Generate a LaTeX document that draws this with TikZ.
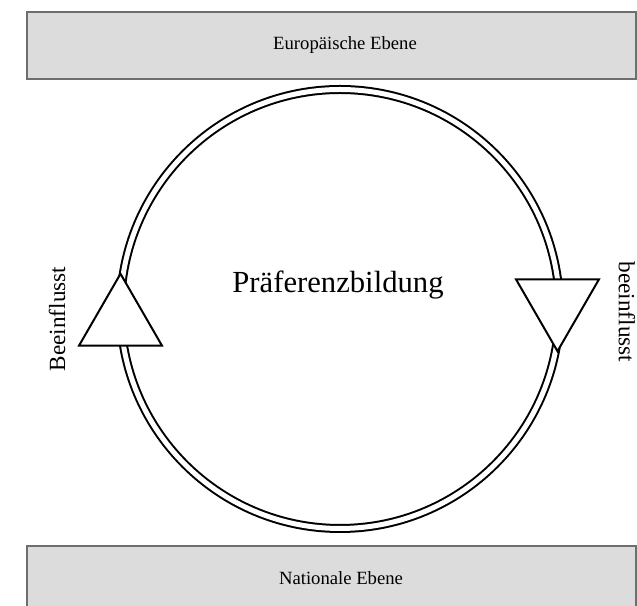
\documentclass[tikz,border=0pt]{standalone}
\usepackage{fontspec}
\setmainfont{Liberation Serif}
\usepackage{tikz}
\usetikzlibrary{shapes.geometric,positioning,calc}
\definecolor{lvlfill}{HTML}{DCDCDC}
\definecolor{lvldraw}{HTML}{6E6E6E}
\tikzset{
  level/.style={rectangle, draw=lvldraw, fill=lvlfill, line width=1.1pt,
    minimum width=456.75pt, minimum height=50.25pt, inner sep=0pt},
  lvltext/.style={font=\fontsize{14}{16}\selectfont, inner sep=0pt},
  ring/.style={draw=black, line width=1.5pt, double=white, double distance=3.75pt},
  tri/.style={regular polygon, regular polygon sides=3, draw=black, fill=white,
    line width=1.5pt, minimum size=71.85pt, inner sep=0pt, outer sep=0pt},
  side/.style={font=\fontsize{17.4}{20}\selectfont, inner sep=0pt},
  core/.style={font=\fontsize{23}{26}\selectfont, inner sep=0pt},
}

\begin{document}
\begin{tikzpicture}[x=0.75pt, y=0.75pt]
\clip (0,0) rectangle (637,606);
\node[level] (eu) at (331.5,560.5) {};
\node[level] (nat) at (331.5,26.5) {};
\node[lvltext] (eutxt) at (345,561) {Europäische Ebene};
\node[lvltext] (nattxt) at (341,28) {Nationale Ebene};

\coordinate (mid) at (340,297);
\draw[ring] (mid) circle (219.5);

\node[tri] (up) at (120.5,284.3) {};
\node[tri, shape border rotate=180] (down) at (557.5,302.7) {};

\node[core] (pref) at (338,321) {Präferenzbildung};
\node[side, rotate=90] (lft) at (57,287) {Beeinflusst};
\node[side, rotate=-90] (rgt) at (627,294) {beeinflusst};
\end{tikzpicture}
\end{document}
